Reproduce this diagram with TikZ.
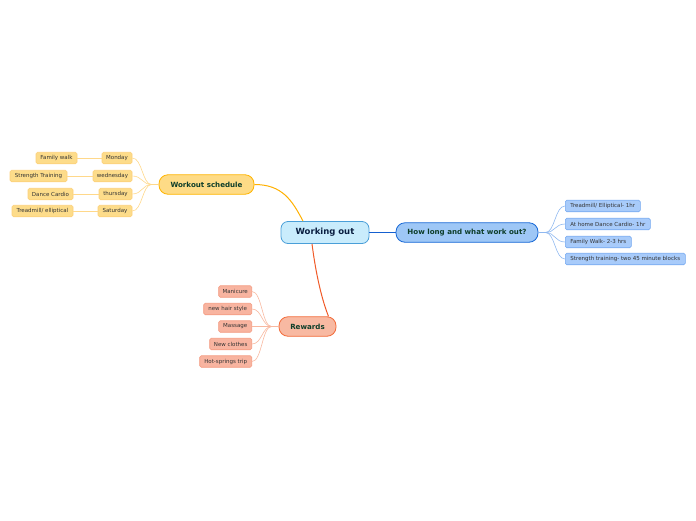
\documentclass[tikz,border=0pt]{standalone}
\usepackage{fontspec}
\setmainfont{DejaVu Sans}
\begin{document}
\begin{tikzpicture}[x=1pt,y=-1pt,
  box/.style={inner sep=0pt, align=center},
  central/.style={box, draw=cborder, fill=cfill, line width=0.8pt, rounded corners=7pt, minimum width=88pt, minimum height=22pt, font=\fontsize{8.5}{9}\selectfont\bfseries, text=ctext},
  branch/.style={box, line width=0.8pt, rounded corners=9pt, minimum height=19.5pt, font=\fontsize{7.1}{8}\selectfont\bfseries, text=btext},
  leaf/.style={box, line width=0.6pt, rounded corners=1.5pt, minimum height=11.5pt, font=\fontsize{5.5}{6}\selectfont, text=ltext},
  yleaf/.style={leaf, draw=yleafb, fill=yleaff},
  bleaf/.style={leaf, draw=bleafb, fill=bleaff},
  rleaf/.style={leaf, draw=rleafb, fill=rleaff},
  yline/.style={draw=ylinec, line width=0.6pt},
  bline/.style={draw=blinec, line width=0.6pt},
  rline/.style={draw=rlinec, line width=0.6pt}
]
\definecolor{cfill}{HTML}{C9ECFC}
\definecolor{cborder}{HTML}{4A9FD8}
\definecolor{ctext}{HTML}{0A1E40}
\definecolor{btext}{HTML}{0E3E2A}
\definecolor{ltext}{HTML}{333333}
\definecolor{ybf}{HTML}{FEDB86}
\definecolor{ybb}{HTML}{FFB400}
\definecolor{yleaff}{HTML}{FDDC8A}
\definecolor{yleafb}{HTML}{FCD07A}
\definecolor{ylinec}{HTML}{FFD88A}
\definecolor{bbf}{HTML}{9EC7F6}
\definecolor{bbb}{HTML}{1667D6}
\definecolor{bleaff}{HTML}{A8CBFA}
\definecolor{bleafb}{HTML}{74A8F0}
\definecolor{blinec}{HTML}{8FB8F0}
\definecolor{rbf}{HTML}{F8B9A2}
\definecolor{rbb}{HTML}{F26B3A}
\definecolor{rleaff}{HTML}{F8B4A0}
\definecolor{rleafb}{HTML}{F49A80}
\definecolor{rlinec}{HTML}{F8B8A0}
\definecolor{ymain}{HTML}{FFB000}
\definecolor{bmain}{HTML}{1560D0}
\definecolor{rmain}{HTML}{F05A28}

\useasboundingbox (0,0) rectangle (696,520);

% nodes
\node[central] (c) at (325,232.5) {Working out};
\node[branch, draw=ybb, fill=ybf, minimum width=95pt] (ws) at (206.5,184.5) {Workout schedule};
\node[branch, draw=bbb, fill=bbf, minimum width=142pt] (hl) at (467,232.5) {How long and what work out?};
\node[branch, draw=rbb, fill=rbf, minimum width=57pt] (rw) at (307.5,326.5) {Rewards};

% yellow leaves
\node[yleaf, minimum width=30pt] (mon) at (117,158) {Monday};
\node[yleaf, minimum width=39pt] (wed) at (112.5,176) {wednesday};
\node[yleaf, minimum width=33pt] (thu) at (115.5,194) {thursday};
\node[yleaf, minimum width=34pt] (sat) at (115,211) {Saturday};
\node[yleaf, minimum width=41pt] (fw) at (56.5,158) {Family walk};
\node[yleaf, minimum width=57pt] (st) at (38.5,176) {Strength Training};
\node[yleaf, minimum width=45pt] (dc) at (50.5,194) {Dance Cardio};
\node[yleaf, minimum width=61pt] (te) at (42.5,211) {Treadmill/ elliptical};

% blue leaves
\node[bleaf, minimum width=75pt, anchor=west] (b1) at (565,206) {Treadmill/ Elliptical- 1hr};
\node[bleaf, minimum width=85pt, anchor=west] (b2) at (565,224) {At home Dance Cardio- 1hr};
\node[bleaf, minimum width=66pt, anchor=west] (b3) at (565,242) {Family Walk- 2-3 hrs};
\node[bleaf, minimum width=120pt, anchor=west] (b4) at (565,259) {Strength training- two 45 minute blocks};

% red leaves
\node[rleaf, minimum width=33pt, anchor=east] (r1) at (252,291.5) {Manicure};
\node[rleaf, minimum width=48pt, anchor=east] (r2) at (252,309) {new hair style};
\node[rleaf, minimum width=33pt, anchor=east] (r3) at (252,326.5) {Massage};
\node[rleaf, minimum width=42pt, anchor=east] (r4) at (252,344) {New clothes};
\node[rleaf, minimum width=52pt, anchor=east] (r5) at (252,361.5) {Hot-springs trip};

% main connectors
\draw[draw=ymain, line width=1pt] ([xshift=-22pt]c.north) .. controls (292,200) and (282,184.5) .. (ws.east);
\draw[draw=bmain, line width=1pt] (c.east) -- (hl.west);
\draw[draw=rmain, line width=1pt] ([xshift=-13pt]c.south) .. controls (316,275) and (322,300) .. ([xshift=21pt]rw.north);

% yellow connectors
\foreach \n in {mon,wed,thu,sat}{
  \draw[yline] (ws.west) -- ++(-7,0) .. controls ([xshift=10pt]\n.east |- ws.west) and ([xshift=10pt]\n.east) .. (\n.east);
}
\draw[yline] (mon.west) -- (fw.east);
\draw[yline] (wed.west) -- (st.east);
\draw[yline] (thu.west) -- (dc.east);
\draw[yline] (sat.west) -- (te.east);

% blue connectors
\foreach \n in {b1,b2,b3,b4}{
  \draw[bline] (hl.east) -- ++(7,0) .. controls ([xshift=-10pt]\n.west |- hl.east) and ([xshift=-10pt]\n.west) .. (\n.west);
}

% red connectors
\foreach \n in {r1,r2,r3,r4,r5}{
  \draw[rline] (rw.west) -- ++(-7,0) .. controls ([xshift=10pt]\n.east |- rw.west) and ([xshift=10pt]\n.east) .. (\n.east);
}
\end{tikzpicture}
\end{document}
